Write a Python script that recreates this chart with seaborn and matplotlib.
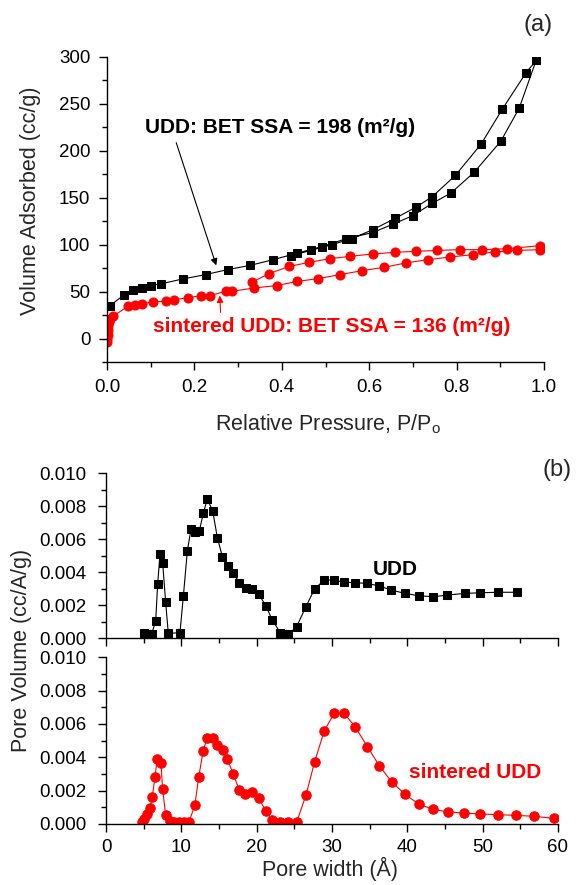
import matplotlib
matplotlib.use("Agg")
import matplotlib.pyplot as plt
import seaborn as sns
from matplotlib.ticker import MultipleLocator, FormatStrFormatter

# (a) N2 isotherms: relative pressure P/Po vs volume adsorbed (cc/g)
udd_ads_p = [0.006, 0.04, 0.06, 0.08, 0.10, 0.123, 0.174, 0.226, 0.276, 0.327, 0.379,
             0.435, 0.491, 0.548, 0.608, 0.655, 0.70, 0.744, 0.787, 0.84, 0.901, 0.943, 0.982]
udd_ads_v = [35, 47, 51.6, 54, 56.6, 58.4, 63.7, 68.3, 73.6, 78, 84,
             91, 98, 106.5, 113, 122, 131, 144, 155, 177, 210, 245, 296]
udd_des_p = [0.959, 0.905, 0.856, 0.797, 0.744, 0.707, 0.659, 0.608, 0.56, 0.514, 0.466, 0.422]
udd_des_v = [283, 244.5, 207, 173.7, 151, 140, 128, 116, 106.5, 100, 94, 88.4]

sint_ads_p = [0.0005, 0.001, 0.0015, 0.002, 0.003, 0.005, 0.008, 0.014, 0.048, 0.063, 0.079,
              0.105, 0.136, 0.153, 0.185, 0.216, 0.235, 0.272, 0.286, 0.336, 0.388, 0.435,
              0.483, 0.534, 0.584, 0.634, 0.684, 0.735, 0.786, 0.837, 0.888, 0.939, 0.991]
sint_ads_v = [-3, 0, 4, 9, 14, 18, 21, 24, 34.6, 36.4, 37.1,
              39.3, 40, 41.7, 43.5, 46, 46, 50.5, 50.5, 54, 56.6, 61,
              64, 68.3, 72.5, 76, 80.7, 84.2, 87, 89.5, 92.4, 94, 94.8]
sint_des_p = [0.991, 0.915, 0.859, 0.808, 0.756, 0.707, 0.659, 0.608, 0.556, 0.51,
              0.463, 0.417, 0.371, 0.331]
sint_des_v = [99, 95.8, 94.8, 94.8, 94, 93, 92, 90.2, 87.7, 85.2,
              81.3, 77, 69.3, 60]

# (b) pore size distributions: pore width (A) vs pore volume (cc/A/g)
udd_w = [5.04, 6.06, 6.6, 6.86, 7.17, 7.52, 7.92, 8.27, 9.82, 10.27, 10.8, 11.28, 11.8,
         12.39, 12.92, 13.45, 14.16, 14.78, 15.45, 16.15, 16.9, 17.7, 18.55, 19.34, 20.27,
         21.2, 22.08, 23.14, 24.2, 25.3, 26.5, 27.7, 28.98, 30.3, 31.6, 33.06, 34.6, 36.3,
         37.8, 39.7, 41.5, 43.45, 45.3, 47.6, 49.7, 52.1, 54.5]
udd_pv = [0.00034, 0.00026, 0.00107, 0.0033, 0.0051, 0.00458, 0.00218, 0.0003, 0.00034,
          0.00256, 0.0053, 0.0066, 0.00646, 0.0065, 0.0076, 0.00842, 0.00773, 0.0061,
          0.00495, 0.0044, 0.00394, 0.00337, 0.00307, 0.00297, 0.00268, 0.00198, 0.00111,
          0.00034, 0.00024, 0.0007, 0.00188, 0.003, 0.00353, 0.00353, 0.0034, 0.00337,
          0.00333, 0.00317, 0.00293, 0.00272, 0.00258, 0.00252, 0.00262, 0.00272, 0.00276,
          0.00279, 0.00279]

sint_w = [4.74, 5.04, 5.4, 5.84, 6.15, 6.5, 6.8, 7.3, 7.52, 7.92, 8.5, 9.0, 9.7, 10.4, 11.0,
          11.8, 12.3, 12.9, 13.45, 14.25, 14.78, 15.5, 16.1, 16.9, 17.7, 18.45, 19.34, 20.3,
          21.2, 22.1, 23.1, 24.2, 25.3, 26.55, 27.7, 28.98, 30.3, 31.6, 33.06, 34.7, 36.3,
          37.9, 39.7, 41.5, 43.4, 45.4, 47.5, 49.7, 52.0, 54.4, 56.8, 59.5]
sint_pv = [0.00014, 0.0003, 0.0006, 0.00094, 0.00164, 0.00284, 0.0039, 0.00364, 0.00208,
           0.00054, 0.00018, 0.0001, 0.0001, 0.0001, 0.0001, 0.00114, 0.0028, 0.0044,
           0.00518, 0.00514, 0.00474, 0.00444, 0.0039, 0.00298, 0.00204, 0.00178, 0.00194,
           0.00154, 0.00078, 0.00024, 0.00014, 0.00014, 0.0001, 0.00174, 0.00374, 0.0056,
           0.00664, 0.00664, 0.00584, 0.00464, 0.00348, 0.00254, 0.00178, 0.0012, 0.00088,
           0.00072, 0.00066, 0.0006, 0.00056, 0.00052, 0.00046, 0.00034]

sns.set_theme(style="ticks")
plt.rcParams['font.family'] = ['Liberation Sans', 'DejaVu Sans']
plt.rcParams['mathtext.fontset'] = 'custom'
plt.rcParams['mathtext.rm'] = 'Liberation Sans'
plt.rcParams['mathtext.it'] = 'Liberation Sans:italic'
plt.rcParams['mathtext.bf'] = 'Liberation Sans:bold'
plt.rcParams['axes.linewidth'] = 1.0
plt.rcParams['axes.edgecolor'] = 'black'

fig = plt.figure(figsize=(5.79, 8.85), dpi=100)
W, H = 579, 885
ax1 = fig.add_axes([107 / W, 1 - 362.3 / H, 437 / W, 305.6 / H])
ax2 = fig.add_axes([106 / W, 1 - 638.3 / H, 452 / W, 165 / H])
ax3 = fig.add_axes([106 / W, 1 - 824 / H, 452 / W, 166.7 / H])

line_kw = dict(sort=False, estimator=None, linewidth=0.8)

# isotherms: adsorption branch followed by desorption branch
sns.lineplot(x=udd_ads_p + udd_des_p, y=udd_ads_v + udd_des_v, ax=ax1, color='black',
             marker='s', markersize=5.5, markeredgecolor='black', **line_kw)
sns.lineplot(x=sint_ads_p + sint_des_p, y=sint_ads_v + sint_des_v, ax=ax1, color='red',
             marker='o', markersize=6.5, markeredgecolor='red', **line_kw)

sns.lineplot(x=udd_w, y=udd_pv, ax=ax2, color='black', marker='s', markersize=6,
             markeredgecolor='black', **line_kw)
sns.lineplot(x=sint_w, y=sint_pv, ax=ax3, color='red', marker='o', markersize=6.8,
             markeredgecolor='red', **line_kw)

for ax in (ax1, ax2, ax3):
    sns.despine(ax=ax)
    ax.tick_params(which='major', direction='out', length=6, width=1, labelsize=13.5,
                   colors='black')
    ax.tick_params(which='minor', direction='out', length=3.5, width=1, colors='black')

ax1.set_xlim(0, 1.0)
ax1.set_ylim(-25, 300)
ax1.xaxis.set_major_locator(MultipleLocator(0.2))
ax1.xaxis.set_minor_locator(MultipleLocator(0.1))
ax1.yaxis.set_major_locator(MultipleLocator(50))
ax1.yaxis.set_minor_locator(MultipleLocator(25))
ax1.xaxis.set_major_formatter(FormatStrFormatter('%.1f'))
ax1.tick_params(axis='both', which='major', pad=6)
ax1.set_xlabel('Relative Pressure, P/P$_\\mathrm{o}$', fontsize=15.5)
ax1.set_ylabel('Volume Adsorbed (cc/g)', fontsize=15.5)
ax1.xaxis.set_label_coords(0.505, -0.165)
ax1.yaxis.set_label_coords(-0.15, 0.53)

for ax in (ax2, ax3):
    ax.set_xlim(0, 60)
    ax.set_ylim(0, 0.010)
    ax.xaxis.set_major_locator(MultipleLocator(10))
    ax.xaxis.set_minor_locator(MultipleLocator(5))
    ax.yaxis.set_major_locator(MultipleLocator(0.002))
    ax.yaxis.set_minor_locator(MultipleLocator(0.001))
    ax.yaxis.set_major_formatter(FormatStrFormatter('%.3f'))
    ax.tick_params(axis='y', which='major', pad=8)
    ax.set_ylabel('')
ax2.tick_params(axis='x', which='both', labelbottom=False)
ax3.tick_params(axis='x', which='major', pad=5)
ax3.set_xlabel('Pore width (Å)', fontsize=15.5)
ax3.xaxis.set_label_coords(0.495, -0.2)
fig.text(22 / W, 1 - 650 / H, 'Pore Volume (cc/A/g)', rotation=90, ha='center',
         va='center', fontsize=15.5)

# annotations
ax1.annotate('UDD: BET SSA = 198 (m²/g)', xy=(0.25, 78), xytext=(0.086, 225),
             fontsize=15, fontweight='bold', color='black', ha='left', va='center',
             arrowprops=dict(arrowstyle='-|>', color='black', lw=0.8,
                             shrinkA=2, shrinkB=0, mutation_scale=10,
                             relpos=(0.11, 0.0)))
ax1.annotate('sintered UDD: BET SSA = 136 (m²/g)', xy=(0.258, 46), xytext=(0.105, 13),
             fontsize=15, fontweight='bold', color='red', ha='left', va='center',
             arrowprops=dict(arrowstyle='-|>', color='red', lw=0.8,
                             shrinkA=1, shrinkB=0, mutation_scale=10,
                             relpos=(0.19, 1.0)))
ax2.text(38.4, 0.00418, 'UDD', fontsize=15, fontweight='bold', color='black',
         ha='center', va='center')
ax3.text(40.2, 0.00308, 'sintered UDD', fontsize=15, fontweight='bold', color='red',
         ha='left', va='center')

fig.text(538 / W, 1 - 25 / H, '(a)', fontsize=17, ha='center', va='center')
fig.text(557 / W, 1 - 470 / H, '(b)', fontsize=17, ha='center', va='center')

fig.savefig('out.png', dpi=100)
plt.close(fig)
